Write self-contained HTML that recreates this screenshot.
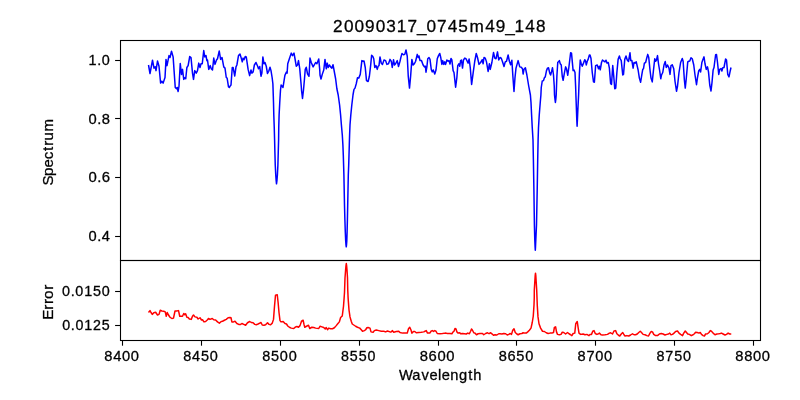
<!DOCTYPE html>
<html lang="en"><head><meta charset="utf-8"><title>20090317_0745m49_148</title>
<style>html,body{margin:0;padding:0;background:#fff;}body{width:800px;height:400px;overflow:hidden;}svg{display:block;}text{font-family:"Liberation Sans",sans-serif;fill:#000;stroke:#000;stroke-width:0.3px;}</style></head><body>
<svg width="800" height="400" viewBox="0 0 800 400">
<rect x="0" y="0" width="800" height="400" fill="#ffffff"/>
<path d="M148.50,65.00 L150.00,73.50 L152.50,60.25 L154.00,68.12 L155.25,66.88 L156.00,70.62 L157.50,61.00 L159.00,66.25 L160.62,83.12 L161.88,81.25 L163.12,83.12 L165.00,77.50 L166.00,59.38 L167.00,65.62 L169.00,55.62 L170.00,57.50 L171.50,51.25 L173.12,56.88 L175.25,87.50 L176.50,88.75 L177.25,87.50 L178.12,91.50 L179.00,86.25 L180.25,63.50 L181.50,74.38 L182.50,69.38 L183.75,79.38 L184.75,77.75 L185.75,78.75 L186.88,67.50 L188.12,65.62 L189.75,56.50 L191.00,57.50 L192.50,73.12 L193.50,79.38 L194.75,70.62 L196.25,73.12 L197.50,70.62 L198.75,63.12 L200.00,67.50 L201.00,63.75 L202.25,63.75 L203.75,50.62 L204.75,56.88 L206.00,55.62 L206.88,60.62 L207.50,60.00 L208.75,69.38 L210.25,65.62 L211.25,68.75 L212.50,70.00 L213.75,58.12 L215.00,64.38 L216.50,60.00 L217.50,58.75 L219.25,51.00 L220.62,59.38 L222.00,57.50 L223.75,66.88 L225.00,68.12 L226.25,77.50 L227.12,78.12 L228.50,86.88 L229.38,87.50 L230.00,86.25 L231.00,85.00 L232.25,67.50 L233.12,67.50 L234.75,76.00 L236.00,66.88 L236.88,65.00 L238.50,55.62 L240.00,54.00 L241.25,58.12 L242.25,61.88 L243.12,58.12 L244.00,59.75 L245.25,56.50 L246.25,56.88 L248.12,69.38 L249.62,75.62 L251.00,70.00 L251.88,73.12 L253.12,71.88 L254.38,65.00 L256.00,62.50 L257.75,66.50 L258.50,68.75 L259.75,66.50 L261.00,76.25 L261.88,73.12 L262.88,56.88 L264.00,63.75 L265.00,62.50 L266.25,66.25 L267.50,73.50 L268.75,71.25 L270.00,67.25 L271.00,70.62 L272.12,77.50 L272.88,83.75 L273.10,90.00 L273.30,96.00 L273.50,102.50 L273.80,115.00 L274.25,127.50 L274.60,140.00 L274.90,152.50 L275.25,165.00 L275.75,175.00 L276.20,181.00 L276.50,183.80 L276.90,181.00 L277.40,175.00 L277.90,165.00 L278.25,152.50 L278.60,140.00 L278.75,127.50 L279.10,115.00 L279.75,102.50 L280.20,95.00 L280.50,90.00 L281.10,85.10 L283.00,87.40 L284.90,75.40 L286.40,72.00 L287.10,73.10 L287.75,63.75 L289.38,58.75 L291.25,53.12 L292.50,55.62 L294.00,53.12 L295.00,58.75 L296.25,66.25 L297.50,65.00 L298.50,60.62 L299.75,68.75 L301.25,86.25 L301.60,91.00 L302.10,95.00 L302.50,98.50 L302.90,95.00 L303.50,90.00 L304.38,80.00 L305.25,69.38 L306.25,67.25 L307.50,73.75 L309.00,76.25 L310.00,58.12 L311.25,62.50 L313.12,66.88 L315.62,62.50 L316.88,63.75 L318.75,59.00 L319.75,70.00 L320.00,75.00 L321.00,79.00 L322.25,74.38 L323.75,70.00 L325.00,59.38 L326.25,68.75 L327.25,63.12 L328.25,67.50 L329.38,65.00 L330.62,66.88 L331.88,68.12 L333.00,64.75 L334.00,70.00 L335.62,78.75 L336.88,88.75 L338.20,95.00 L339.60,105.00 L340.60,115.00 L341.40,125.00 L342.30,135.00 L342.90,145.00 L343.30,155.00 L343.60,165.00 L343.90,175.00 L344.20,190.00 L344.50,205.00 L344.90,220.00 L345.30,232.00 L345.70,241.00 L346.00,245.00 L346.25,246.80 L346.50,245.00 L346.80,241.00 L347.10,232.00 L347.40,220.00 L347.70,205.00 L348.00,190.00 L348.30,175.00 L348.70,165.00 L349.00,155.00 L349.30,145.00 L349.60,135.00 L350.00,125.00 L350.80,115.00 L351.80,105.00 L353.00,95.00 L353.60,91.50 L354.00,89.38 L355.00,88.12 L356.25,83.75 L357.50,77.75 L358.75,78.12 L360.25,74.38 L361.88,60.62 L363.12,61.25 L364.00,61.00 L365.25,67.50 L366.50,80.62 L368.12,81.50 L369.38,76.25 L370.62,65.62 L371.62,55.25 L372.75,56.25 L373.75,58.75 L374.75,67.50 L376.00,65.62 L377.25,69.38 L378.12,66.25 L379.00,65.62 L380.00,56.88 L381.25,63.12 L382.50,64.38 L384.00,60.00 L385.62,60.62 L386.88,64.38 L388.50,63.75 L390.00,59.38 L391.25,61.25 L392.25,67.50 L393.50,59.75 L394.50,65.00 L395.62,63.75 L397.25,60.62 L398.50,66.50 L400.00,61.25 L401.00,56.88 L402.00,53.50 L403.50,54.75 L404.75,54.38 L406.00,50.00 L407.25,56.25 L408.25,76.25 L409.50,88.12 L410.62,76.25 L411.88,59.38 L413.12,65.00 L414.38,63.75 L415.62,61.25 L417.25,54.38 L418.25,57.50 L419.00,56.00 L420.00,60.62 L421.50,60.62 L423.12,65.00 L424.38,66.88 L425.38,66.25 L426.00,72.25 L426.88,66.88 L427.75,58.75 L429.00,57.50 L430.00,59.38 L431.25,69.38 L432.25,71.88 L433.25,70.00 L434.75,74.00 L436.00,70.00 L437.25,58.75 L438.50,55.62 L439.75,53.50 L440.75,57.50 L441.88,64.38 L442.75,60.62 L443.75,64.38 L444.75,61.88 L445.62,64.38 L446.88,60.00 L448.12,61.25 L449.00,60.62 L450.00,64.00 L451.00,58.50 L451.88,60.00 L453.12,70.62 L454.00,72.50 L455.62,87.25 L456.88,77.50 L457.75,65.62 L459.00,63.75 L459.75,66.25 L460.62,60.62 L461.50,60.00 L462.50,68.12 L463.50,60.00 L464.75,58.12 L466.00,58.75 L468.12,63.12 L469.12,59.00 L470.25,67.50 L471.62,84.38 L473.12,73.12 L474.75,61.25 L476.25,53.50 L477.50,57.50 L479.00,64.38 L480.62,62.50 L482.25,59.75 L483.12,63.75 L484.00,57.50 L485.25,58.12 L486.50,61.88 L488.12,71.50 L489.38,63.75 L490.25,69.38 L491.88,62.50 L493.50,52.50 L494.75,58.12 L496.00,58.75 L497.50,51.88 L498.75,60.00 L500.00,57.50 L501.25,58.12 L502.75,62.50 L504.00,66.50 L505.25,61.88 L506.50,61.25 L508.12,55.00 L509.38,61.25 L510.62,64.75 L511.88,60.25 L512.88,76.25 L514.00,91.50 L515.00,77.50 L516.00,68.12 L518.12,60.62 L519.75,66.88 L521.25,67.25 L522.50,68.75 L523.12,74.00 L524.00,69.38 L525.38,67.75 L526.88,75.00 L528.75,86.25 L530.40,95.00 L531.00,102.50 L531.60,115.00 L532.25,127.50 L533.00,140.00 L533.40,160.00 L533.90,190.00 L534.40,225.00 L534.80,240.00 L535.10,247.00 L535.30,250.20 L535.50,247.00 L535.80,240.00 L536.50,225.00 L537.20,190.00 L537.70,160.00 L538.10,140.00 L538.50,127.50 L539.25,115.00 L540.25,102.50 L540.90,95.00 L541.25,87.50 L542.25,81.00 L543.50,80.62 L544.38,77.75 L545.25,76.88 L546.50,70.62 L547.50,68.12 L548.50,67.75 L549.75,73.12 L550.62,75.00 L551.50,71.88 L552.50,67.75 L553.50,75.00 L554.25,86.25 L554.50,95.00 L555.00,99.50 L555.40,102.50 L555.80,99.50 L556.20,95.00 L556.88,76.25 L557.75,62.50 L559.38,60.62 L560.25,63.75 L561.25,65.00 L562.25,76.25 L563.12,80.25 L564.38,73.12 L565.62,66.88 L566.50,68.75 L567.75,75.25 L569.00,66.25 L570.62,52.75 L571.50,53.12 L573.12,70.62 L574.00,70.00 L575.00,72.50 L575.62,86.25 L575.90,95.00 L576.40,108.75 L576.80,120.00 L577.10,126.30 L577.40,120.00 L577.90,108.75 L578.60,95.00 L579.38,73.75 L580.25,60.00 L581.25,63.75 L582.25,66.25 L583.50,63.12 L584.75,59.75 L585.62,61.25 L586.25,65.00 L587.25,61.25 L588.12,59.38 L589.38,55.00 L590.00,55.00 L591.00,58.50 L592.25,72.50 L593.50,81.88 L594.38,82.25 L595.62,65.62 L597.25,65.00 L598.50,68.75 L599.38,66.25 L600.25,69.75 L601.50,62.50 L602.50,60.00 L604.00,61.25 L605.00,61.88 L606.00,60.25 L607.00,63.12 L608.25,62.50 L609.38,68.12 L610.62,83.75 L611.50,84.38 L612.75,65.62 L613.75,76.25 L614.75,88.75 L615.75,88.12 L616.88,72.50 L618.12,59.38 L619.38,56.00 L620.25,58.75 L621.25,60.62 L622.75,75.00 L623.50,74.38 L624.75,59.38 L626.00,56.00 L627.25,60.00 L628.50,61.50 L630.00,52.75 L630.75,60.62 L631.88,60.62 L633.12,68.12 L634.00,62.50 L635.00,63.12 L636.25,61.88 L638.12,70.00 L639.38,78.12 L640.62,82.25 L641.88,74.38 L642.75,69.38 L643.50,68.75 L644.38,63.12 L645.62,62.50 L646.88,57.50 L647.75,54.38 L648.75,57.50 L650.00,70.00 L651.00,78.12 L652.25,81.88 L653.50,70.00 L654.75,58.75 L655.62,61.25 L656.50,60.00 L657.50,55.62 L658.50,63.75 L659.75,71.25 L660.75,78.75 L661.50,75.00 L662.75,72.50 L664.00,65.00 L665.25,61.50 L666.25,67.50 L667.50,65.00 L669.00,68.12 L670.00,74.38 L671.00,65.62 L672.25,64.75 L673.75,68.75 L675.00,81.25 L676.50,91.25 L677.50,86.25 L679.00,72.50 L680.62,62.50 L682.25,58.50 L683.12,61.25 L684.38,80.00 L685.25,88.12 L686.25,78.75 L687.75,61.88 L688.75,61.25 L689.75,61.00 L691.00,57.75 L692.25,58.75 L693.75,65.00 L695.00,75.00 L696.50,84.75 L697.50,77.50 L698.75,70.62 L699.75,69.38 L700.62,71.88 L701.88,62.50 L702.75,60.00 L704.00,56.88 L705.00,63.75 L706.25,69.38 L707.50,66.88 L708.50,71.88 L709.75,85.00 L711.00,91.00 L712.00,82.50 L713.12,70.00 L714.00,67.50 L715.62,54.75 L716.50,54.50 L717.50,62.50 L718.75,74.38 L719.75,69.38 L721.00,68.50 L721.88,71.00 L722.75,67.75 L724.00,67.50 L725.62,59.00 L726.50,60.00 L727.75,74.38 L729.00,76.88 L730.00,71.88 L731.00,67.50" fill="none" stroke="#0000ff" stroke-width="1.5" stroke-linejoin="round" stroke-linecap="butt"/>
<path d="M148.50,312.50 L150.00,310.62 L151.00,312.50 L152.25,314.38 L153.75,312.75 L155.62,312.25 L157.50,315.00 L159.00,314.38 L160.25,310.25 L161.88,311.00 L163.75,311.25 L165.25,311.88 L166.25,316.25 L167.25,312.50 L168.50,315.00 L170.00,317.25 L171.88,318.50 L173.50,318.12 L175.00,311.00 L176.50,311.00 L178.50,310.62 L179.75,316.25 L182.50,316.25 L183.75,313.50 L184.75,314.75 L185.62,313.75 L186.88,317.25 L188.12,317.50 L189.38,319.00 L191.25,319.38 L192.50,316.25 L193.50,315.00 L195.00,316.88 L196.88,317.25 L198.12,319.00 L200.00,317.75 L201.50,320.00 L202.50,319.75 L204.00,321.88 L205.62,321.50 L207.50,319.75 L208.50,318.50 L210.00,319.38 L212.25,318.50 L213.75,319.75 L215.62,320.00 L217.50,321.88 L219.38,323.12 L221.25,321.50 L222.50,321.25 L224.38,320.25 L226.25,319.38 L228.12,317.75 L230.00,317.50 L231.00,317.75 L231.88,321.88 L233.50,321.88 L235.00,321.25 L236.88,323.50 L238.75,324.38 L240.62,324.38 L241.88,323.50 L243.75,324.38 L245.62,325.25 L247.50,322.75 L249.75,321.50 L251.25,322.50 L253.12,322.75 L254.75,324.38 L256.25,324.75 L258.12,324.00 L259.75,323.12 L261.00,322.50 L262.25,325.00 L264.00,325.25 L265.62,324.75 L267.50,322.75 L269.00,324.38 L270.62,324.75 L272.25,323.12 L273.50,319.38 L274.50,306.25 L275.50,295.25 L277.25,294.75 L278.12,302.50 L279.00,312.50 L280.00,320.62 L281.00,321.88 L283.12,321.50 L285.00,323.50 L286.50,324.00 L287.75,326.00 L289.38,327.25 L291.25,328.12 L293.75,328.50 L295.62,326.88 L296.88,326.50 L298.50,327.25 L300.00,325.62 L301.50,321.25 L303.12,320.25 L304.00,324.38 L304.75,327.25 L306.50,326.25 L308.50,325.25 L309.75,328.50 L311.88,327.25 L313.75,327.50 L315.62,328.12 L318.75,328.50 L320.00,326.25 L321.88,326.88 L323.75,327.50 L325.25,329.00 L326.25,327.50 L327.50,329.75 L328.75,328.12 L330.62,328.75 L332.50,328.75 L334.38,327.75 L336.25,325.62 L337.75,323.75 L339.38,321.88 L340.62,317.50 L342.25,316.00 L343.50,306.25 L344.12,298.00 L344.50,292.50 L345.00,278.00 L345.60,270.00 L346.00,265.50 L346.30,263.50 L346.60,265.50 L347.00,270.00 L347.50,278.00 L347.75,290.00 L348.12,298.00 L348.25,300.00 L349.00,310.00 L350.00,316.88 L351.25,321.25 L352.25,324.00 L353.75,325.00 L355.62,326.25 L357.50,327.25 L359.75,328.12 L361.25,329.75 L362.50,331.25 L364.38,330.62 L365.62,329.75 L366.88,327.75 L368.12,327.50 L370.00,328.12 L371.00,331.88 L373.12,332.25 L374.38,330.62 L376.25,330.00 L378.75,330.62 L381.25,331.25 L383.75,331.25 L385.62,331.88 L387.50,331.00 L390.00,331.88 L391.25,331.88 L392.25,330.62 L393.75,332.25 L396.25,331.50 L398.75,331.25 L400.00,332.50 L402.50,333.12 L405.00,333.12 L407.25,333.12 L408.50,328.75 L409.75,327.25 L411.00,330.00 L411.88,333.12 L413.50,331.50 L414.75,331.50 L416.25,332.75 L418.75,332.50 L421.25,332.25 L423.75,331.88 L425.00,331.25 L426.25,330.62 L427.50,333.12 L429.75,333.12 L431.25,331.00 L432.50,330.62 L433.50,331.50 L434.75,330.62 L436.00,331.25 L437.25,333.50 L440.00,333.75 L442.50,333.50 L445.00,333.12 L447.50,333.38 L450.00,333.50 L451.88,333.75 L453.12,331.88 L454.00,331.25 L455.00,328.50 L456.00,329.00 L456.88,331.88 L458.12,333.12 L459.75,332.75 L460.62,333.75 L462.50,333.50 L464.38,333.75 L466.25,334.00 L467.75,333.12 L469.38,333.75 L470.62,331.25 L471.50,329.00 L472.50,330.25 L473.75,332.75 L475.00,333.12 L476.50,334.75 L478.12,333.75 L480.00,333.50 L482.50,333.50 L483.75,334.75 L485.62,333.50 L487.50,332.75 L489.00,333.75 L490.25,332.75 L491.88,333.75 L493.50,335.25 L495.00,334.75 L496.88,335.00 L498.75,333.75 L500.00,333.75 L501.88,334.00 L503.75,333.50 L505.62,333.75 L507.25,335.00 L508.75,334.38 L510.25,333.50 L511.50,334.38 L512.75,330.25 L514.00,328.75 L515.25,332.50 L516.88,334.00 L518.12,334.75 L520.00,333.75 L521.88,333.50 L523.12,332.75 L524.38,333.12 L526.25,333.12 L527.75,331.88 L529.38,330.25 L531.00,328.12 L532.25,322.50 L533.25,316.25 L534.00,305.00 L534.25,298.00 L534.30,290.00 L534.80,282.00 L535.20,275.50 L535.50,273.20 L535.80,275.50 L536.20,282.00 L536.70,290.00 L537.00,298.00 L537.25,305.00 L538.00,316.88 L539.00,323.75 L540.62,328.12 L542.50,331.25 L544.38,331.50 L546.25,332.75 L548.12,333.50 L550.00,333.12 L551.88,333.12 L553.50,332.50 L554.38,327.50 L555.62,326.88 L556.50,331.88 L557.50,334.38 L559.38,334.75 L561.00,334.38 L562.25,332.25 L563.75,332.50 L565.62,334.00 L567.50,332.50 L569.00,333.75 L570.62,334.75 L571.88,335.62 L573.12,333.50 L574.75,333.12 L575.75,323.75 L577.25,321.50 L578.12,327.50 L579.00,333.12 L580.62,334.38 L583.12,334.00 L585.00,334.75 L586.88,334.38 L589.00,335.62 L590.00,334.38 L591.50,334.38 L592.75,331.25 L594.00,330.62 L595.25,333.50 L596.88,334.38 L598.12,334.00 L599.38,333.12 L601.00,334.75 L602.50,335.00 L605.00,334.75 L607.50,334.38 L609.38,333.12 L610.62,332.75 L612.50,334.00 L614.00,331.00 L615.62,330.62 L616.88,333.75 L618.50,335.25 L619.75,336.00 L621.25,334.00 L622.75,332.50 L624.00,334.75 L625.00,336.00 L626.88,335.62 L628.75,336.00 L630.62,335.00 L632.50,333.75 L634.00,334.75 L635.62,334.75 L637.25,334.00 L638.75,332.50 L640.25,331.25 L641.50,332.50 L643.12,334.38 L645.00,334.75 L646.88,335.62 L648.50,336.00 L650.00,333.12 L651.25,331.50 L652.50,331.88 L653.75,334.38 L655.62,335.62 L657.50,335.62 L659.38,334.00 L661.25,333.50 L663.12,334.00 L665.00,335.00 L666.88,334.38 L668.50,334.00 L669.75,333.12 L671.00,334.75 L672.50,334.38 L674.00,333.12 L675.62,331.50 L677.50,331.00 L679.00,333.12 L680.62,334.38 L682.50,335.62 L683.75,333.12 L685.25,331.00 L686.50,332.50 L687.75,334.00 L689.38,334.38 L691.25,335.62 L693.12,334.75 L694.38,333.75 L695.62,332.25 L697.25,332.50 L699.00,333.12 L700.25,332.50 L701.50,334.38 L703.12,335.62 L704.38,336.00 L705.62,334.00 L707.50,333.75 L709.00,332.50 L710.25,330.62 L711.50,331.25 L713.12,333.12 L715.00,334.75 L716.88,334.00 L718.75,333.75 L720.25,333.50 L721.50,333.12 L723.12,334.00 L725.00,335.00 L726.50,334.38 L728.12,333.12 L729.75,334.00 L731.25,334.00" fill="none" stroke="#ff0000" stroke-width="1.5" stroke-linejoin="round" stroke-linecap="butt"/>
<g fill="none" stroke="#000" stroke-width="1.1" stroke-linecap="square">
<rect x="120.5" y="40.5" width="640" height="220"/>
<rect x="120.5" y="260.5" width="640" height="80"/>
</g>
<g stroke="#000" stroke-width="1.1">
<line x1="122.50" y1="341" x2="122.50" y2="345.7"/>
<line x1="201.50" y1="341" x2="201.50" y2="345.7"/>
<line x1="280.50" y1="341" x2="280.50" y2="345.7"/>
<line x1="359.50" y1="341" x2="359.50" y2="345.7"/>
<line x1="438.50" y1="341" x2="438.50" y2="345.7"/>
<line x1="516.50" y1="341" x2="516.50" y2="345.7"/>
<line x1="595.50" y1="341" x2="595.50" y2="345.7"/>
<line x1="674.50" y1="341" x2="674.50" y2="345.7"/>
<line x1="753.50" y1="341" x2="753.50" y2="345.7"/>
<line x1="115.1" y1="60.50" x2="120" y2="60.50"/>
<line x1="115.1" y1="118.50" x2="120" y2="118.50"/>
<line x1="115.1" y1="177.50" x2="120" y2="177.50"/>
<line x1="115.1" y1="236.50" x2="120" y2="236.50"/>
<line x1="115.1" y1="291.50" x2="120" y2="291.50"/>
<line x1="115.1" y1="325.50" x2="120" y2="325.50"/>
</g>
<g opacity="0.999">
<text transform="translate(104.00,360.70) scale(1.0194,1)" font-size="14.4" x="0.33 8.99 17.66 26.33" y="0">8400</text>
<text transform="translate(182.88,360.70) scale(1.0054,1)" font-size="14.4" x="0.39 9.17 17.91 26.76" y="0">8450</text>
<text transform="translate(261.75,360.70) scale(1.0052,1)" font-size="14.4" x="0.39 9.13 17.97 26.76" y="0">8500</text>
<text transform="translate(340.62,360.70) scale(0.9909,1)" font-size="14.4" x="0.45 9.32 18.23 27.21" y="0">8550</text>
<text transform="translate(419.50,360.70) scale(1.0282,1)" font-size="14.4" x="0.29 8.88 17.48 26.07" y="0">8600</text>
<text transform="translate(498.38,360.70) scale(1.0138,1)" font-size="14.4" x="0.35 9.07 17.73 26.50" y="0">8650</text>
<text transform="translate(577.25,360.70) scale(1.0141,1)" font-size="14.4" x="0.35 9.04 17.78 26.49" y="0">8700</text>
<text transform="translate(656.12,360.70) scale(0.9997,1)" font-size="14.4" x="0.41 9.22 18.04 26.93" y="0">8750</text>
<text transform="translate(735.00,360.70) scale(1.0222,1)" font-size="14.4" x="0.31 8.96 17.60 26.25" y="0">8800</text>
<text transform="translate(88.21,64.85) scale(0.9997,1)" font-size="14.4" x="0.34 9.04 13.67" y="0">1.0</text>
<text transform="translate(88.21,123.50) scale(1.0241,1)" font-size="14.4" x="0.31 8.78 13.25" y="0">0.8</text>
<text transform="translate(88.21,182.20) scale(1.0351,1)" font-size="14.4" x="0.26 8.66 13.06" y="0">0.6</text>
<text transform="translate(88.21,240.85) scale(1.0192,1)" font-size="14.4" x="0.33 8.83 13.33" y="0">0.4</text>
<text transform="translate(61.70,296.00) scale(0.9986,1)" font-size="14.4" x="0.42 9.05 13.69 22.47 31.33 40.24" y="0">0.0150</text>
<text transform="translate(61.70,329.90) scale(0.9915,1)" font-size="14.4" x="0.45 9.13 13.81 22.66 31.46 40.50" y="0">0.0125</text>
<text transform="translate(399.04,379.70) scale(1.0169,1)" font-size="14.4" x="-0.10 13.03 22.11 29.91 38.34 42.01 50.47 58.96 67.96 72.95" y="0">Wavelength</text>
<text transform="translate(53.00,184.85) rotate(-90) scale(1.0467,1)" font-size="14.4" x="-0.58 8.51 16.64 24.47 32.34 37.47 42.43 51.00" y="0">Spectrum</text>
<text transform="translate(53.00,319.10) rotate(-90) scale(1.0566,1)" font-size="14.4" x="-0.71 8.85 14.25 19.13 27.70" y="0">Error</text>
<text transform="translate(332.80,31.60) scale(0.9885,1)" font-size="17.4" x="0.30 11.25 21.98 32.65 43.43 54.18 64.80 75.58 85.23 94.77 105.47 116.23 126.89 138.17 154.11 164.78 174.45 183.91 194.72 205.45" y="0">20090317_0745m49_148</text>
</g>
</svg></body></html>
